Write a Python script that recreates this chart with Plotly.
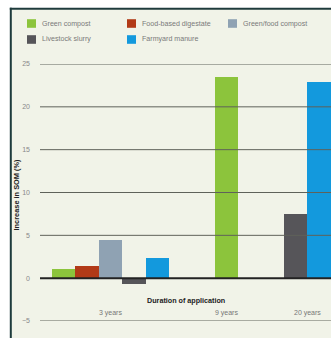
import plotly.graph_objects as go

categories = ["3 years", "9 years", "20 years"]
series_names = ["Green compost", "Food-based digestate", "Green/food compost",
                "Livestock slurry", "Farmyard manure"]
green_compost = [1.1, 23.45, None]
food_digestate = [1.4, None, None]
green_food_compost = [4.4, None, None]
livestock_slurry = [-0.7, None, 7.5]
farmyard_manure = [2.4, None, 22.9]
series_values = [green_compost, food_digestate, green_food_compost,
                 livestock_slurry, farmyard_manure]
colors = ["#8cc43c", "#b23a17", "#8fa2b3", "#565559", "#1399dd"]
y_ticks = [-5, 0, 5, 10, 15, 20, 25]

FONT = "Liberation Sans"
GAP = 1.95  # gap between groups, in bar widths

# sequential positions: bars packed per category, groups separated by GAP
positions = {i: [None] * len(categories) for i in range(len(series_names))}
cat_centres = []
pos = 0.0
for c in range(len(categories)):
    here = []
    for s in range(len(series_names)):
        if series_values[s][c] is not None:
            positions[s][c] = pos
            here.append(pos)
            pos += 1
    cat_centres.append(sum(here) / len(here))
    pos += GAP

fig = go.Figure()
for s, name in enumerate(series_names):
    xs = [positions[s][c] for c in range(len(categories)) if series_values[s][c] is not None]
    ys = [v for v in series_values[s] if v is not None]
    fig.add_trace(go.Bar(x=xs, y=ys, name=name, width=1.0,
                         marker=dict(color=colors[s], line=dict(width=0)),
                         showlegend=False))

W, H, T, B, L = 331, 338, 64, 17, 40
pw, ph = W - L, H - T - B


def px_x(px):
    return (px - L) / pw


def px_y(py):
    return 1 + (T - py) / ph


shapes = []
# background panel and frame
shapes.append(dict(type="rect", xref="paper", yref="paper", x0=px_x(11), x1=px_x(340),
                   y0=px_y(345), y1=px_y(9), fillcolor="#f1f3e8", line=dict(width=0),
                   layer="below"))
shapes.append(dict(type="line", xref="paper", yref="paper", x0=px_x(10.8), x1=px_x(10.8),
                   y0=px_y(345), y1=px_y(7.8), line=dict(color="#1e3b3c", width=2)))
shapes.append(dict(type="line", xref="paper", yref="paper", x0=px_x(9.8), x1=px_x(340),
                   y0=px_y(8.8), y1=px_y(8.8), line=dict(color="#1e3b3c", width=2)))
# gridlines drawn above bars
for t in y_ticks:
    shapes.append(dict(type="line", xref="paper", yref="y", x0=0, x1=1, y0=t, y1=t,
                       layer="above",
                       line=dict(color="#222222" if t == 0 else "#5f625a",
                                 width=2 if t == 0 else 1)))

annotations = []
for c, label in enumerate(categories):
    annotations.append(dict(x=cat_centres[c], y=-4.1, xref="x", yref="y", text=label,
                            showarrow=False, xanchor="center",
                            font=dict(family=FONT, size=7, color="#777777")))
annotations.append(dict(x=0.5, y=-2.55, xref="paper", yref="y",
                        text="<b>Duration of application</b>", showarrow=False,
                        xanchor="center",
                        font=dict(family=FONT, size=7.2, color="#222222")))
annotations.append(dict(x=px_x(15.5), y=px_y(194), xref="paper", yref="paper",
                        text="<b>Increase in SOM (%)</b>", textangle=-90, showarrow=False,
                        xanchor="center", yanchor="middle",
                        font=dict(family=FONT, size=7.4, color="#222222")))

# custom legend (3 per row)
legend_x = [27, 127, 228]
legend_y = [23.5, 39.5]
for s, name in enumerate(series_names):
    px = legend_x[s % 3]
    py = legend_y[s // 3]
    shapes.append(dict(type="rect", xref="paper", yref="paper",
                       x0=px_x(px), x1=px_x(px + 9),
                       y0=px_y(py + 4.3), y1=px_y(py - 4.3),
                       fillcolor=colors[s], line=dict(width=0)))
    annotations.append(dict(x=px_x(px + 12.5), y=px_y(py), xref="paper",
                            yref="paper", text=name, showarrow=False, xanchor="left",
                            yanchor="middle",
                            font=dict(family=FONT, size=7.1, color="#7a7a7a")))

fig.update_layout(
    width=W, height=H,
    margin=dict(l=L, r=0, t=T, b=B),
    paper_bgcolor="white",
    plot_bgcolor="rgba(0,0,0,0)",
    bargap=0,
    shapes=shapes,
    annotations=annotations,
    xaxis=dict(range=[-1.01, 11.42], showgrid=False, zeroline=False,
               showticklabels=False, ticks="", tickvals=cat_centres, fixedrange=True),
    yaxis=dict(range=[-5, 25], tickvals=y_ticks, showgrid=False, zeroline=False,
               ticks="", ticklabelstandoff=9,
               tickfont=dict(family=FONT, size=7, color="#888888")),
)

fig.write_html("out.html")
